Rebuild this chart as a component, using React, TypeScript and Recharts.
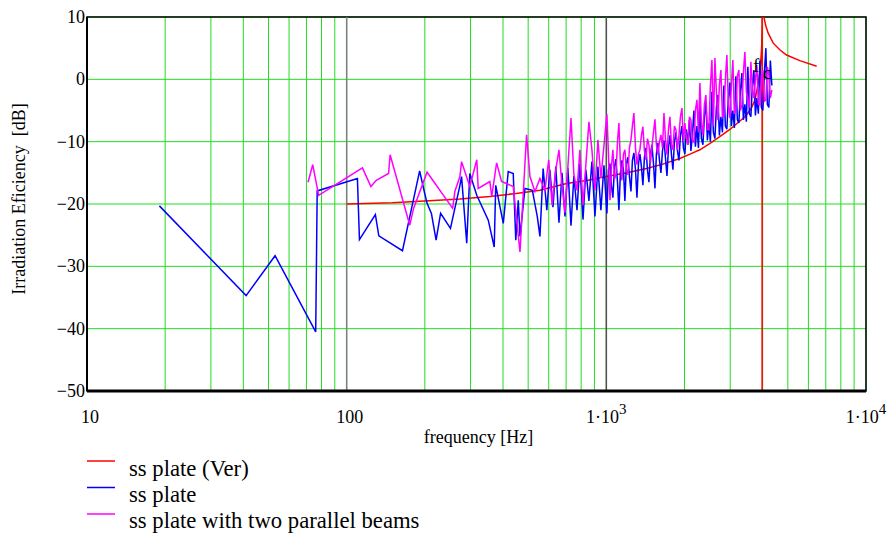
import { CartesianGrid, Label, Legend, Line, LineChart, ReferenceArea, ReferenceDot, ReferenceLine, XAxis, YAxis } from "recharts"

const serif = "'Liberation Serif', 'Times New Roman', serif"

const xTicks = [10, 20, 30, 40, 50, 60, 70, 80, 90, 100, 200, 300, 400, 500, 600, 700, 800, 900, 1000, 2000, 3000, 4000, 5000, 6000, 7000, 8000, 9000, 10000]
const decadeTicks = [10, 100, 1000, 10000]
const decadeLines = [100, 1000]
const yTicks = [-50, -40, -30, -20, -10, 0, 10]
const fc = 3980

const seriesNames = ["ss plate (Ver)", "ss plate", "ss plate with two parallel beams"]
const seriesColors = ["#ff0000", "#0000ff", "#ff00ff"]

// ss plate (Ver) - theoretical curve
const verFreq = [100, 150, 200, 273, 356, 450, 555, 703, 850, 1000, 1200, 1429, 1650, 1920, 2100, 2291, 2500, 2735, 3000, 3200, 3420, 3600, 3737, 3850, 3908, 3950, 3967, 3977, 3980, 3981, 3982, 4046, 4104, 4200, 4393, 4665, 4944, 5561, 6457]
const verDb = [-20.0, -19.8, -19.5, -19.2, -18.8, -18.3, -17.8, -16.7, -16.2, -15.6, -15.0, -14.3, -13.6, -12.7, -12.0, -11.3, -10.3, -9.2, -8.0, -7.0, -6.0, -4.8, -3.3, -0.5, 1.5, 4.0, 5.5, 9.0, 14, -60, 14, 10, 8.7, 7.4, 5.8, 4.7, 3.9, 3.0, 2.1]

// ss plate - measured
const plateFreq = [19, 41, 53, 76, 77, 110, 112, 129, 133, 164, 191, 199, 204, 212, 221, 230, 251, 273, 277, 290, 298, 317, 351, 370, 375, 401, 419, 438, 448, 458, 465, 486, 519, 542, 555, 571,
  590, 606, 623, 639, 657, 675, 693, 711, 731, 750, 771, 791, 813, 834, 857, 880, 904, 928, 953, 979,
  1005, 1019, 1033, 1046, 1060, 1075, 1089, 1104, 1118, 1133, 1148, 1164, 1179, 1195, 1211, 1227, 1244, 1260, 1277, 1295,
  1312, 1330, 1347, 1365, 1383, 1402, 1421, 1440, 1459, 1479, 1498, 1519, 1539, 1559, 1580, 1602, 1623, 1645, 1667, 1689,
  1712, 1735, 1758, 1781, 1805, 1829, 1854, 1879, 1904, 1929, 1955, 1981,
  2007, 2034, 2061, 2089, 2117, 2145, 2174, 2203, 2233, 2263, 2293, 2324, 2355, 2386, 2418, 2450, 2483, 2516, 2550, 2584,
  2619, 2654, 2689, 2725, 2762, 2799, 2836, 2874, 2912, 2951, 2991, 3031, 3071, 3112, 3154, 3196, 3239, 3283, 3327, 3371,
  3416, 3462, 3508, 3555, 3603, 3651, 3700, 3750, 3799, 3850, 3902, 3954, 4007, 4061, 4115, 4170, 4226, 4282, 4340]
const plateDb = [-20.3, -34.7, -28.3, -40.5, -17.9, -15.9, -25.7, -21.7, -25.1, -27.5, -14.7, -18.0, -19.9, -21.5, -25.8, -21.5, -23.9, -17.0, -15.6, -26.3, -15.1, -18.6, -22.6, -26.9, -17.0, -23.1, -14.8, -15.1, -25.8, -19.4, -25.2, -17.5, -17.8, -22.0, -25.2, -14.3,
  -21.0, -14.5, -20.5, -14.0, -23.0, -15.0, -22.0, -14.2, -23.5, -15.5, -21.0, -13.5, -22.5, -14.5, -19.5, -13.2, -22.0, -14.0, -21.0, -13.8,
  -21.5, -14.5, -13.5, -17.0, -19.0, -14.0, -12.8, -16.5, -21.0, -15.0, -13.0, -14.5, -19.5, -13.5, -12.5, -15.5, -18.0, -13.0, -11.8, -14.5,
  -19.0, -13.5, -12.0, -14.0, -17.0, -12.5, -11.0, -14.5, -16.5, -12.0, -10.5, -13.5, -17.5, -12.0, -10.2, -13.0, -15.0, -11.5, -9.8, -12.5,
  -15.5, -11.0, -9.0, -12.0, -14.5, -10.0, -8.5, -11.5, -13.0, -9.0, -7.5, -11.0,
  -12.0, -8.0, -10.5, -6.5, -11.5, -9.0, -5.0, -10.8, -7.5, -11.0, -4.0, -9.5, -10.5, -6.0, -3.5, -9.8, -7.0, -10.0, -2.0, -8.5,
  -9.5, -4.5, -2.5, -9.0, -6.0, -8.5, -1.0, -7.5, -8.0, -3.0, -0.5, -7.5, -5.0, -7.8, 0.5, -6.5, -7.0, -2.0, 1.0, -6.5,
  -4.0, -6.8, 2.0, -5.5, -6.0, -1.0, 1.5, -5.8, -3.0, -5.5, 3.0, -4.5, -5.0, 1.0, 5.0, -4.0, -4.5, 3.0, -1.0]

// ss plate with two parallel beams - measured
const beamsFreq = [71, 74, 78, 115, 124, 130, 145, 147, 175, 181, 204, 256, 261, 273, 277, 298, 317, 321, 356, 362, 378, 395, 438, 465, 493, 508, 531, 555, 580,
  600, 618, 639, 657, 675, 693, 731, 750, 771, 791, 813, 857, 880, 904, 928, 953,
  1005, 1019, 1033, 1046, 1060, 1075, 1089, 1104, 1118, 1133, 1148, 1164, 1179, 1195, 1211, 1227, 1244, 1260, 1277, 1295,
  1312, 1330, 1347, 1365, 1383, 1402, 1421, 1440, 1459, 1479, 1498, 1519, 1539, 1559, 1580, 1602, 1623, 1645, 1667, 1689,
  1712, 1735, 1758, 1781, 1805, 1829, 1854, 1879, 1904, 1929, 1955, 1981,
  2007, 2034, 2061, 2089, 2117, 2145, 2174, 2203, 2233, 2263, 2293, 2324, 2355, 2386, 2418, 2450, 2483, 2516, 2550, 2584,
  2619, 2654, 2689, 2725, 2762, 2799, 2836, 2874, 2912, 2951, 2991, 3031, 3071, 3112, 3154, 3196, 3239, 3283, 3327, 3371,
  3416, 3462, 3508, 3555, 3603, 3651, 3700, 3750, 3799, 3850, 3902, 3954, 4007, 4061, 4115, 4170, 4226, 4282, 4340]
const beamsDb = [-16.5, -13.7, -18.6, -14.2, -17.2, -16.2, -15.1, -12.1, -23.4, -20.7, -14.9, -20.7, -18.0, -15.6, -13.2, -17.2, -12.9, -17.5, -16.4, -18.8, -13.4, -16.4, -17.2, -27.7, -8.9, -15.6, -18.0, -15.9, -17.8,
  -12.9, -20.2, -14.5, -11.3, -17.0, -21.4, -6.2, -15.3, -17.8, -11.3, -20.2, -6.8, -11.3, -17.8, -9.7, -15.8,
  -5.6, -12.0, -19.4, -14.0, -11.3, -16.0, -15.3, -10.0, -7.0, -13.5, -16.2, -12.0, -11.3, -14.5, -15.3, -11.0, -9.7, -7.5, -5.4, -11.0,
  -13.7, -12.0, -11.3, -9.0, -7.6, -11.5, -12.9, -9.5, -10.5, -13.4, -11.0, -8.5, -6.4, -10.5, -12.1, -10.0, -8.9, -11.0, -5.4, -9.5,
  -12.1, -8.0, -6.0, -10.5, -11.3, -7.5, -8.1, -11.3, -9.0, -6.0, -4.6, -10.0,
  -7.0, -9.5, -10.5, -6.0, -6.5, -9.8, -10.1, -5.0, -3.3, -8.5, -0.6, -7.0, -8.9, -4.0, -2.5, -8.0, -8.1, -1.0, 3.1, -7.5,
  3.4, -2.0, -6.5, -1.0, 1.5, -6.0, -5.7, 0.0, 3.9, -4.0, -6.2, -1.0, 3.1, -5.5, -4.9, 0.5, 1.5, -5.0, -4.1, 1.0,
  4.4, -2.0, -3.3, -4.5, 2.8, -1.5, -3.0, 0.0, 2.3, -4.0, -4.1, 0.5, 1.5, -3.5, -3.3, 2.0, 0.7, -3.0, -1.7]

const toPoints = (fs: number[], dbs: number[]) => fs.map((f, i) => ({ f, db: dbs[i] }))
const verData = toPoints(verFreq, verDb)
const plateData = toPoints(plateFreq, plateDb)
const beamsData = toPoints(beamsFreq, beamsDb)

const FreqTick = ({ x, y, payload }: any) => {
  const v = payload.value
  if (!decadeTicks.includes(v)) return <g />
  const exp = v >= 1000 ? String(Math.round(Math.log10(v))) : null
  return (
    <text x={exp ? x : x + 3} y={y + 32} textAnchor="middle" fontSize={18} fontFamily={serif} fill="#000">
      {exp ? (
        <>
          <tspan>1·10</tspan>
          <tspan dy={-9} fontSize={15}>{exp}</tspan>
        </>
      ) : (
        String(v)
      )}
    </text>
  )
}

const DbTick = ({ x, y, payload }: any) => {
  const v = payload.value
  return (
    <text x={x} y={y + 6} textAnchor="end" fontSize={18} fontFamily={serif} fill="#000">
      {v < 0 ? "\u2212" + Math.abs(v) : String(v)}
    </text>
  )
}

const XTitle = ({ viewBox }: any) => (
  <text x={viewBox.x + viewBox.width / 2 + 2} y={443} textAnchor="middle" fontSize={18} fontFamily={serif} fill="#000">
    frequency [Hz]
  </text>
)

const YTitle = () => (
  <text x={25} y={199} transform="rotate(-90 25 199)" textAnchor="middle" fontSize={18} fontFamily={serif} fill="#000" style={{ whiteSpace: "pre" }}>
    {"Irradiation Eficiency  [dB]"}
  </text>
)

const FcMark = ({ cx, cy }: any) => (
  <g fontFamily={serif} fill="#000">
    <text x={cx - 6} y={cy} textAnchor="middle" fontSize={19}>f</text>
    <text x={cx + 5} y={cy + 7} textAnchor="middle" fontSize={19}>c</text>
  </g>
)

const LegendBox = () => (
  <svg width={440} height={88}>
    {seriesNames.map((name, i) => (
      <g key={name}>
        <line x1={0} x2={28} y1={13 + i * 26.5} y2={13 + i * 26.5} stroke={seriesColors[i]} strokeWidth={1.5} />
        <text x={42} y={28 + i * 26} fontSize={22.7} fontFamily={serif} fill="#000">{name}</text>
      </g>
    ))}
  </svg>
)

export default function App() {
  return (
    <div style={{ position: "absolute", left: 0, top: 0, background: "#fff" }}>
      <LineChart width={887} height={536} margin={{ top: 17, right: 21, left: 17, bottom: 105 }}>
        <CartesianGrid stroke="#22dd22" strokeWidth={1} />
        <XAxis
          dataKey="f"
          type="number"
          scale="log"
          domain={[10, 10000]}
          allowDataOverflow
          ticks={xTicks}
          interval={0}
          height={40}
          tickSize={0}
          tickMargin={0}
          tickLine={false}
          axisLine={{ stroke: "#000", strokeWidth: 3 }}
          tick={<FreqTick />}
          label={<Label content={<XTitle />} />}
        />
        <YAxis
          type="number"
          domain={[-50, 10]}
          allowDataOverflow
          ticks={yTicks}
          interval={0}
          width={70}
          tickSize={0}
          tickMargin={2}
          tickLine={false}
          axisLine={{ stroke: "#000", strokeWidth: 2 }}
          tick={<DbTick />}
          label={<Label content={<YTitle />} />}
        />
        {decadeLines.map((f, i) => (
          <ReferenceLine key={f} x={f} stroke={i === 0 ? "#808080" : "#505050"} strokeWidth={1.5} />
        ))}
        <ReferenceArea x1={10} x2={10000} y1={-50} y2={10} fill="none" stroke="#000" strokeWidth={1.5} />
        <Line data={verData} dataKey="db" name={seriesNames[0]} stroke={seriesColors[0]} strokeWidth={1.5} dot={false} isAnimationActive={false} />
        <Line data={plateData} dataKey="db" name={seriesNames[1]} stroke={seriesColors[1]} strokeWidth={1.5} dot={false} isAnimationActive={false} />
        <Line data={beamsData} dataKey="db" name={seriesNames[2]} stroke={seriesColors[2]} strokeWidth={1.5} dot={false} isAnimationActive={false} />
        <ReferenceDot x={fc} y={1.2} shape={<FcMark />} />
        <Legend
          layout="vertical"
          align="center"
          verticalAlign="middle"
          wrapperStyle={{ top: 448, left: 87, width: 440, height: 88 }}
          content={<LegendBox />}
        />
      </LineChart>
    </div>
  )
}
